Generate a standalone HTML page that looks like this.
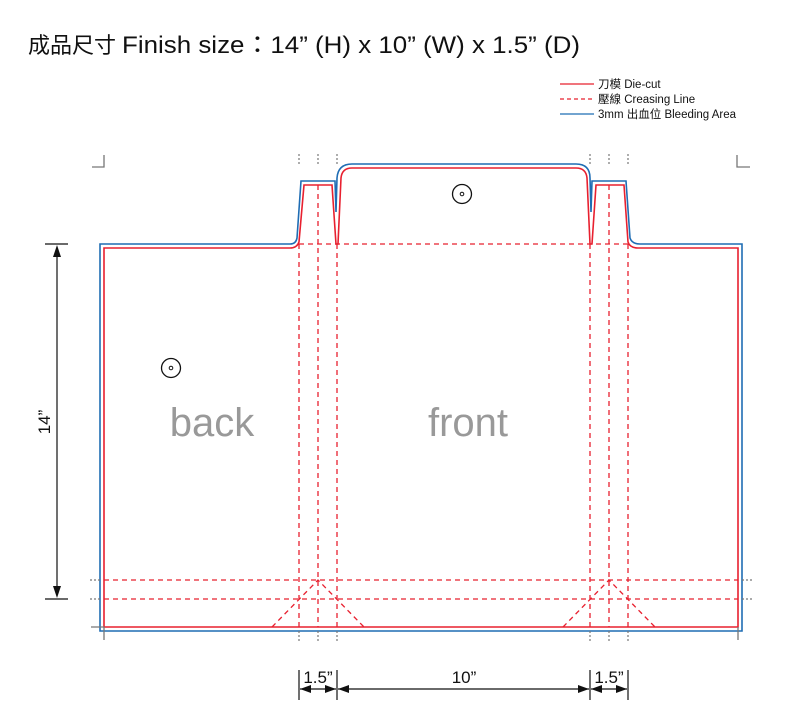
<!DOCTYPE html>
<html><head><meta charset="utf-8"><style>
html,body{margin:0;padding:0;background:#fff;}
svg{display:block;}
text{font-family:"Liberation Sans","Noto Sans CJK TC",sans-serif;}
</style></head><body>
<svg width="800" height="720" viewBox="0 0 800 720" xmlns="http://www.w3.org/2000/svg">
<text x="28" y="53" font-size="22" fill="#111">成品尺寸</text>
<text x="122" y="53" font-size="24" fill="#111" textLength="458" lengthAdjust="spacingAndGlyphs">Finish size：14” (H) x 10” (W) x 1.5” (D)</text>
<!-- legend -->
<line x1="560" y1="84" x2="594" y2="84" stroke="#e8202f" stroke-width="1.3"/>
<line x1="560" y1="99" x2="594" y2="99" stroke="#e8202f" stroke-width="1.3" stroke-dasharray="4,3"/>
<line x1="560" y1="114" x2="594" y2="114" stroke="#1f6db4" stroke-width="1.3"/>
<text x="598" y="88" font-size="11.5" fill="#111">刀模  Die-cut</text>
<text x="598" y="103" font-size="11.5" fill="#111">壓線  Creasing Line</text>
<text x="598" y="118" font-size="11.5" fill="#111">3mm 出血位 Bleeding Area</text>
<!-- bleed -->
<path d="M100,631 L100,244 L290,244 Q296,244 297,238 L301,181 L335,181 L336,212 L337,178 Q338,164 352,164 L576,164 Q590,164 590,178 L591,212 L592,181 L626,181 L630,238 Q632,244 640,244 L742,244 L742,631 Z" fill="none" stroke="#1f6db4" stroke-width="1.6"/>
<!-- die cut -->
<path d="M104,248 L290,248 Q297,248 299,242 L304,185 L332,185 L336,244 L338,244 L341,178 Q342,168 352,168 L576,168 Q586,168 587,178 L590,244 L592,244 L596,185 L624,185 L628,242 Q630,248 638,248 L738,248 L738,627 L104,627 Z" fill="none" stroke="#e8202f" stroke-width="1.6"/>
<!-- creases -->
<g stroke="#e8202f" stroke-width="1.3" stroke-dasharray="5,4" fill="none">
<line x1="299" y1="244" x2="628" y2="244"/>
<line x1="299" y1="244" x2="299" y2="627"/>
<line x1="318" y1="185" x2="318" y2="627"/>
<line x1="337" y1="244" x2="337" y2="627"/>
<line x1="590" y1="244" x2="590" y2="627"/>
<line x1="609" y1="185" x2="609" y2="627"/>
<line x1="628" y1="244" x2="628" y2="627"/>
<line x1="104" y1="580" x2="738" y2="580"/>
<line x1="104" y1="599" x2="738" y2="599"/>
<polyline points="272,627 318,580 364,627"/>
<polyline points="563,627 609,580 655,627"/>
</g>
<!-- gray marks -->
<g stroke="#777" stroke-width="1.2" stroke-dasharray="2,2">
<line x1="299" y1="154" x2="299" y2="166"/><line x1="318" y1="154" x2="318" y2="166"/><line x1="337" y1="154" x2="337" y2="166"/>
<line x1="590" y1="154" x2="590" y2="166"/><line x1="609" y1="154" x2="609" y2="166"/><line x1="628" y1="154" x2="628" y2="166"/>
<line x1="299" y1="631" x2="299" y2="643"/><line x1="318" y1="631" x2="318" y2="643"/><line x1="337" y1="631" x2="337" y2="643"/>
<line x1="590" y1="631" x2="590" y2="643"/><line x1="609" y1="631" x2="609" y2="643"/><line x1="628" y1="631" x2="628" y2="643"/>
<line x1="90" y1="580" x2="100" y2="580"/><line x1="90" y1="599" x2="100" y2="599"/>
<line x1="742" y1="580" x2="752" y2="580"/><line x1="742" y1="599" x2="752" y2="599"/>
</g>
<g stroke="#777" stroke-width="1.3" fill="none">
<polyline points="92,167 104,167 104,155"/>
<polyline points="737,155 737,167 750,167"/>
<polyline points="91,627 104,627 104,640"/>
<polyline points="738,627 738,640"/>
</g>
<!-- circles -->
<circle cx="462" cy="194" r="9.5" fill="none" stroke="#111" stroke-width="1.3"/><circle cx="462" cy="194" r="1.8" fill="none" stroke="#111" stroke-width="1"/>
<circle cx="171" cy="368" r="9.5" fill="none" stroke="#111" stroke-width="1.3"/><circle cx="171" cy="368" r="1.8" fill="none" stroke="#111" stroke-width="1"/>
<text x="212" y="436" font-size="40" fill="#999" text-anchor="middle">back</text>
<text x="468" y="436" font-size="40" fill="#999" text-anchor="middle">front</text>
<!-- vertical dimension -->
<g stroke="#111" stroke-width="1.2">
<line x1="45" y1="244" x2="68" y2="244"/><line x1="45" y1="599" x2="68" y2="599"/>
<line x1="57" y1="250" x2="57" y2="593"/>
</g>
<polygon points="57,245 53,257 61,257" fill="#111"/>
<polygon points="57,598 53,586 61,586" fill="#111"/>
<text transform="translate(50,422) rotate(-90)" font-size="17" fill="#111" text-anchor="middle">14”</text>
<!-- bottom dimension -->
<g stroke="#111" stroke-width="1.2">
<line x1="299" y1="670" x2="299" y2="700"/><line x1="337" y1="670" x2="337" y2="700"/>
<line x1="590" y1="670" x2="590" y2="700"/><line x1="628" y1="670" x2="628" y2="700"/>
<line x1="300" y1="689" x2="336" y2="689"/><line x1="338" y1="689" x2="589" y2="689"/><line x1="591" y1="689" x2="627" y2="689"/>
</g>
<g fill="#111">
<polygon points="300,689 311,685 311,693"/><polygon points="336,689 325,685 325,693"/>
<polygon points="338,689 349,685 349,693"/><polygon points="589,689 578,685 578,693"/>
<polygon points="591,689 602,685 602,693"/><polygon points="627,689 616,685 616,693"/>
</g>
<text x="318" y="683" font-size="17" fill="#111" text-anchor="middle">1.5”</text>
<text x="464" y="683" font-size="17" fill="#111" text-anchor="middle">10”</text>
<text x="609" y="683" font-size="17" fill="#111" text-anchor="middle">1.5”</text>
</svg>
</body></html>
